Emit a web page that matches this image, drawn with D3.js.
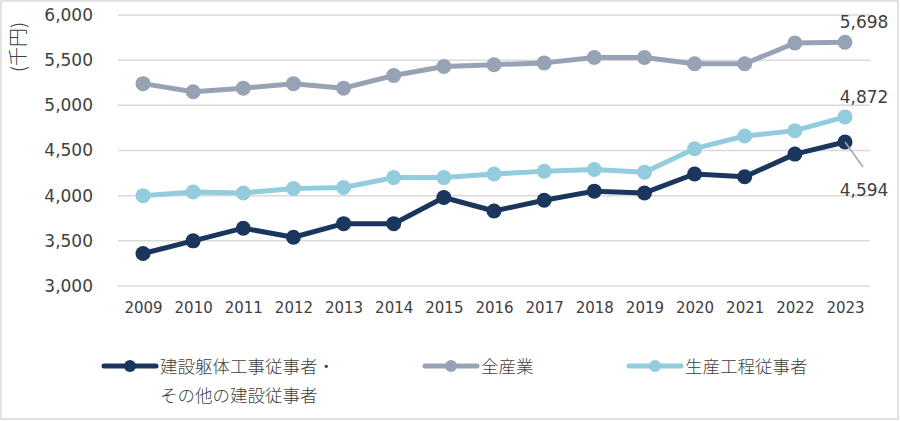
<!DOCTYPE html>
<html>
<head>
<meta charset="utf-8">
<script src="https://cdn.jsdelivr.net/npm/d3@7"></script>
<style>
  body { margin: 0; background: #fff; }
  svg text { font-family: Verdana, "DejaVu Sans", "Noto Sans CJK JP", sans-serif; fill: #404040; }
  .jp { font-family: "Noto Sans CJK JP", sans-serif; font-weight: 300; }
</style>
</head>
<body>
<svg id="chart" width="900" height="421"></svg>
<script>
  // data
  const years = [2009, 2010, 2011, 2012, 2013, 2014, 2015, 2016, 2017, 2018, 2019, 2020, 2021, 2022, 2023];
  const construction = [3360, 3500, 3640, 3540, 3690, 3690, 3980, 3830, 3950, 4050, 4030, 4240, 4210, 4460, 4594];
  const allIndustry = [5240, 5150, 5190, 5240, 5190, 5330, 5430, 5450, 5470, 5530, 5530, 5460, 5460, 5690, 5698];
  const production = [4000, 4040, 4030, 4080, 4090, 4200, 4200, 4240, 4270, 4290, 4260, 4520, 4660, 4720, 4872];
  const yTicks = [3000, 3500, 4000, 4500, 5000, 5500, 6000];

  const series = [
    { name: ['建設躯体工事従事者・', 'その他の建設従事者'], values: construction, color: '#1b365d', lx: 102, label: 'below' },
    { name: ['全産業'], values: allIndustry, color: '#97a3b5', lx: 423, label: 'above' },
    { name: ['生産工程従事者'], values: production, color: '#93cddd', lx: 627, label: 'above' }
  ];

  const svg = d3.select('#chart');

  svg.append('rect')
    .attr('x', 1).attr('y', 1).attr('width', 897).attr('height', 418)
    .attr('fill', '#fff').attr('stroke', '#d9d9d9').attr('stroke-width', 1.5);

  const x = d3.scalePoint().domain(years).range([143, 845]);
  const y = d3.scaleLinear().domain([3000, 6000]).range([286, 15]);

  // gridlines
  svg.append('g').selectAll('line')
    .data(yTicks)
    .enter().append('line')
    .attr('x1', 118).attr('x2', 870)
    .attr('y1', d => y(d)).attr('y2', d => y(d))
    .attr('stroke', '#d9d9d9').attr('stroke-width', 1.5);

  // y axis
  const yAxis = svg.append('g')
    .attr('transform', 'translate(93,0)')
    .call(d3.axisLeft(y).tickValues(yTicks).tickFormat(d3.format(',')).tickSize(0).tickPadding(0));
  yAxis.select('.domain').remove();
  yAxis.selectAll('text').style('font-size', '17px').attr('fill', '#404040');

  // x axis
  const xAxis = svg.append('g')
    .attr('transform', 'translate(0,302)')
    .call(d3.axisBottom(x).tickSize(0).tickPadding(0));
  xAxis.select('.domain').remove();
  xAxis.selectAll('text').style('font-size', '15px').attr('fill', '#404040');

  // unit label
  svg.append('text')
    .attr('class', 'jp')
    .attr('transform', 'translate(25,47) rotate(-90)')
    .attr('text-anchor', 'middle')
    .style('font-size', '19px')
    .text('(千円)');

  const line = d3.line()
    .x((d, i) => x(years[i]))
    .y(d => y(d));

  series.forEach(s => {
    svg.append('path')
      .datum(s.values)
      .attr('fill', 'none')
      .attr('stroke', s.color)
      .attr('stroke-width', 5)
      .attr('stroke-linejoin', 'round')
      .attr('d', line);

    svg.append('g').selectAll('circle')
      .data(s.values)
      .enter().append('circle')
      .attr('cx', (d, i) => x(years[i]))
      .attr('cy', d => y(d))
      .attr('r', 7.5)
      .attr('fill', s.color);

    // end label
    const last = s.values[s.values.length - 1];
    const lx = x(years[years.length - 1]);
    if (s.label === 'above') {
      svg.append('text')
        .attr('x', lx + 19).attr('y', y(last) - 14)
        .attr('text-anchor', 'middle')
        .style('font-size', '17px')
        .text(d3.format(',')(last));
    } else {
      svg.append('line')
        .attr('x1', lx).attr('y1', y(last))
        .attr('x2', lx + 18).attr('y2', y(last) + 25)
        .attr('stroke', '#a6a6a6').attr('stroke-width', 1.5);
      svg.append('text')
        .attr('x', lx + 19).attr('y', y(last) + 54)
        .attr('text-anchor', 'middle')
        .style('font-size', '17px')
        .text(d3.format(',')(last));
    }

    // legend
    const ly = 366;
    svg.append('line')
      .attr('x1', s.lx + 2).attr('x2', s.lx + 54)
      .attr('y1', ly).attr('y2', ly)
      .attr('stroke', s.color).attr('stroke-width', 5)
      .attr('stroke-linecap', 'round');
    svg.append('circle')
      .attr('cx', s.lx + 28).attr('cy', ly).attr('r', 6)
      .attr('fill', s.color);
    s.name.forEach((t, k) => {
      svg.append('text')
        .attr('class', 'jp')
        .attr('x', s.lx + 58).attr('y', ly + 7 + k * 29)
        .style('font-size', '17.5px')
        .text(t);
    });
  });
</script>
</body>
</html>
